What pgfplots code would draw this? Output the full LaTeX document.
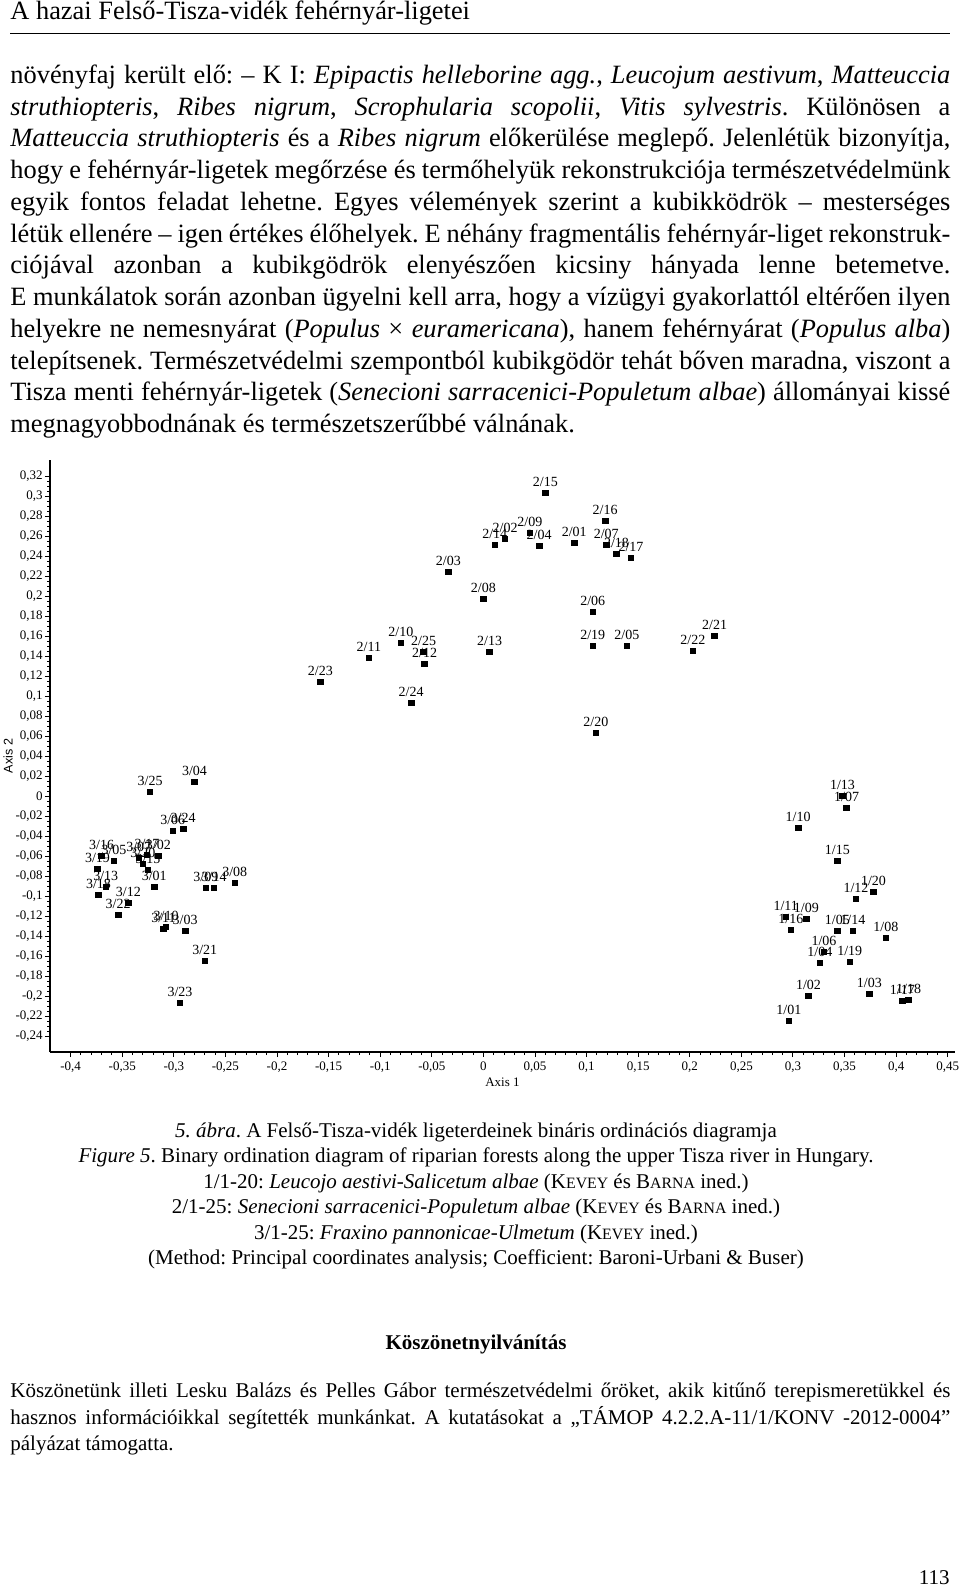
\documentclass[border=0pt]{standalone}
\usepackage{fontspec}
\setmainfont{Liberation Serif}
\setsansfont{Liberation Sans}
\usepackage{pgfplots}
\pgfplotsset{compat=1.18}
\frenchspacing

\newcommand\bodyfont{\fontsize{13.2pt}{15.9pt}\selectfont}
\newcommand\capfont{\fontsize{10.5pt}{12pt}\selectfont}
% justified line, last line, centred line
\newcommand\jl[2]{\node[anchor=base west,inner sep=0pt] at (5pt,-#1) {\makebox[470pt][s]{#2}};}
\newcommand\lastl[2]{\node[anchor=base west,inner sep=0pt] at (5pt,-#1) {#2};}
\newcommand\cl[2]{\node[anchor=base,inner sep=0pt,font=\capfont] at (238pt,-#1) {#2};}
\newcommand\fsc[2]{#1{\fontsize{7.9pt}{8pt}\selectfont #2}}

\begin{document}
\begin{tikzpicture}
\useasboundingbox (0,0) rectangle (480pt,-794pt);

% running head
\node[anchor=base west,inner sep=0pt,font=\bodyfont] at (5pt,-10pt) {A hazai Felső-Tisza-vidék fehérnyár-ligetei};
\draw[line width=0.6pt] (5pt,-16.6pt) -- (475pt,-16.6pt);

% body text
\begin{scope}[every node/.style={font=\bodyfont}]
\jl{41.7pt}{növényfaj került elő: – K I: \textit{Epipactis helleborine agg.}, \textit{Leucojum aestivum}, \textit{Matteuccia}}
\jl{57.58pt}{\textit{struthiopteris}, \textit{Ribes nigrum}, \textit{Scrophularia scopolii}, \textit{Vitis sylvestris}. Különösen a}
\jl{73.46pt}{\textit{Matteuccia struthiopteris} és a \textit{Ribes nigrum} előkerülése meglepő. Jelenlétük bizonyítja,}
\jl{89.34pt}{hogy e fehérnyár-ligetek megőrzése és termőhelyük rekonstrukciója természetvédelmünk}
\jl{105.22pt}{egyik fontos feladat lehetne. Egyes vélemények szerint a kubikködrök – mesterséges}
\jl{121.1pt}{létük ellenére – igen értékes élőhelyek. E néhány fragmentális fehérnyár-liget rekonstruk-}
\jl{136.98pt}{ciójával azonban a kubikgödrök elenyészően kicsiny hányada lenne betemetve.}
\jl{152.86pt}{E munkálatok során azonban ügyelni kell arra, hogy a vízügyi gyakorlattól eltérően ilyen}
\jl{168.74pt}{helyekre ne nemesnyárat (\textit{Populus} × \textit{euramericana}), hanem fehérnyárat (\textit{Populus alba})}
\jl{184.62pt}{telepítsenek. Természetvédelmi szempontból kubikgödör tehát bőven maradna, viszont a}
\jl{200.5pt}{Tisza menti fehérnyár-ligetek (\textit{Senecioni sarracenici-Populetum albae}) állományai kissé}
\lastl{216.38pt}{megnagyobbodnának és természetszerűbbé válnának.}
\end{scope}

\begin{axis}[
  at={(25pt,-526pt)}, anchor=south west,
  scale only axis, width=452.5pt, height=296pt,
  xmin=-0.42, xmax=0.457, ymin=-0.256, ymax=0.336,
  axis lines=left, axis line style={-, line width=0.9pt},
  tick align=outside, major tick length=2.6pt, minor tick length=1.5pt,
  every tick/.style={black, line width=0.5pt},
  xtick={-0.4,-0.35,-0.3,-0.25,-0.2,-0.15,-0.1,-0.05,0,0.05,0.1,0.15,0.2,0.25,0.3,0.35,0.4,0.45},
  xticklabels={{-0,4},{-0,35},{-0,3},{-0,25},{-0,2},{-0,15},{-0,1},{-0,05},{0},{0,05},{0,1},{0,15},{0,2},{0,25},{0,3},{0,35},{0,4},{0,45}},
  ytick={-0.24,-0.22,-0.2,-0.18,-0.16,-0.14,-0.12,-0.1,-0.08,-0.06,-0.04,-0.02,0,0.02,0.04,0.06,0.08,0.1,0.12,0.14,0.16,0.18,0.2,0.22,0.24,0.26,0.28,0.3,0.32},
  yticklabels={{-0,24},{-0,22},{-0,2},{-0,18},{-0,16},{-0,14},{-0,12},{-0,1},{-0,08},{-0,06},{-0,04},{-0,02},{0},{0,02},{0,04},{0,06},{0,08},{0,1},{0,12},{0,14},{0,16},{0,18},{0,2},{0,22},{0,24},{0,26},{0,28},{0,3},{0,32}},
  minor x tick num=4, minor y tick num=3,
  /pgf/number format/assume math mode=true,
  tick label style={font=\fontsize{6.5pt}{7pt}\selectfont},
  xticklabel style={yshift=1pt},
  yticklabel style={xshift=2.5pt},
  xlabel={Axis 1}, ylabel={Axis 2},
  xlabel style={font=\fontsize{6.5pt}{7pt}\selectfont, at={(axis description cs:0.5,0)}, anchor=center, yshift=-15pt},
  ylabel style={font=\sffamily\fontsize{6.3pt}{7pt}\selectfont, at={(axis description cs:0,0.5)}, anchor=center, yshift=21pt},
  clip=false,
  pt/.style={only marks, mark=square*, mark size=1.4pt, black,
    mark options={draw=black, fill=black},
    nodes near coords, point meta=explicit symbolic},
  every node near coord/.append style={font=\fontsize{7pt}{7pt}\selectfont, anchor=south, inner sep=0pt, yshift=3pt, black},
]
% group 1: Leucojo aestivi-Salicetum albae
\addplot[pt] table[meta=lab] {
x y lab
0.296 -0.225 1/01
0.315 -0.200 1/02
0.374 -0.198 1/03
0.326 -0.167 1/04
0.343 -0.135 1/05
0.330 -0.156 1/06
0.352 -0.012 1/07
0.390 -0.142 1/08
0.313 -0.123 1/09
0.305 -0.032 1/10
0.293 -0.121 1/11
0.361 -0.103 1/12
0.348 0.000 1/13
0.358 -0.135 1/14
0.343 -0.065 1/15
0.298 -0.134 1/16
0.406 -0.205 1/17
0.412 -0.204 1/18
0.355 -0.166 1/19
0.378 -0.096 1/20
};
% group 2: Senecioni sarracenici-Populetum albae
\addplot[pt] table[meta=lab] {
x y lab
0.088 0.253 2/01
0.021 0.257 2/02
-0.034 0.224 2/03
0.054 0.250 2/04
0.139 0.150 2/05
0.106 0.184 2/06
0.119 0.251 2/07
0.000 0.197 2/08
0.045 0.263 2/09
-0.080 0.153 2/10
-0.111 0.138 2/11
-0.057 0.132 2/12
0.006 0.144 2/13
0.011 0.251 2/14
0.060 0.303 2/15
0.118 0.275 2/16
0.143 0.238 2/17
0.129 0.242 2/18
0.106 0.150 2/19
0.109 0.063 2/20
0.224 0.160 2/21
0.203 0.145 2/22
-0.158 0.114 2/23
-0.070 0.093 2/24
-0.058 0.144 2/25
};
% group 3: Fraxino pannonicae-Ulmetum
\addplot[pt] table[meta=lab] {
x y lab
-0.319 -0.091 3/01
-0.315 -0.060 3/02
-0.289 -0.135 3/03
-0.280 0.014 3/04
-0.358 -0.065 3/05
-0.301 -0.035 3/06
-0.334 -0.062 3/07
-0.241 -0.087 3/08
-0.269 -0.092 3/09
-0.3075 -0.131 3/10
-0.310 -0.133 3/11
-0.344 -0.107 3/12
-0.366 -0.091 3/13
-0.261 -0.092 3/14
-0.325 -0.074 3/15
-0.370 -0.060 3/16
-0.326 -0.059 3/17
-0.373 -0.099 3/18
-0.374 -0.073 3/19
-0.330 -0.068 3/20
-0.270 -0.165 3/21
-0.354 -0.119 3/22
-0.294 -0.207 3/23
-0.291 -0.033 3/24
-0.323 0.004 3/25
};
\end{axis}

% caption
\cl{568.6pt}{\textit{5. ábra}. A Felső-Tisza-vidék ligeterdeinek bináris ordinációs diagramja}
\cl{581.35pt}{\textit{Figure 5}. Binary ordination diagram of riparian forests along the upper Tisza river in Hungary.}
\cl{594.1pt}{1/1-20: \textit{Leucojo aestivi-Salicetum albae} (\fsc{K}{EVEY} és \fsc{B}{ARNA} ined.)}
\cl{606.85pt}{2/1-25: \textit{Senecioni sarracenici-Populetum albae} (\fsc{K}{EVEY} és \fsc{B}{ARNA} ined.)}
\cl{619.6pt}{3/1-25: \textit{Fraxino pannonicae-Ulmetum} (\fsc{K}{EVEY} ined.)}
\cl{632.35pt}{(Method: Principal coordinates analysis; Coefficient: Baroni-Urbani \& Buser)}

% acknowledgements
\node[anchor=base,inner sep=0pt,font=\fontsize{10.5pt}{12pt}\selectfont\bfseries] at (238pt,-674.5pt) {Köszönetnyilvánítás};
\begin{scope}[every node/.style={font=\capfont}]
\jl{698.9pt}{Köszönetünk illeti Lesku Balázs és Pelles Gábor természetvédelmi őröket, akik kitűnő terepismeretükkel és}
\jl{712.1pt}{hasznos információikkal segítették munkánkat. A kutatásokat a „TÁMOP 4.2.2.A-11/1/KONV -2012-0004”}
\lastl{725.3pt}{pályázat támogatta.}
\end{scope}

\node[anchor=base east,inner sep=0pt,font=\fontsize{10.5pt}{12pt}\selectfont] at (475pt,-792pt) {113};
\end{tikzpicture}
\end{document}
